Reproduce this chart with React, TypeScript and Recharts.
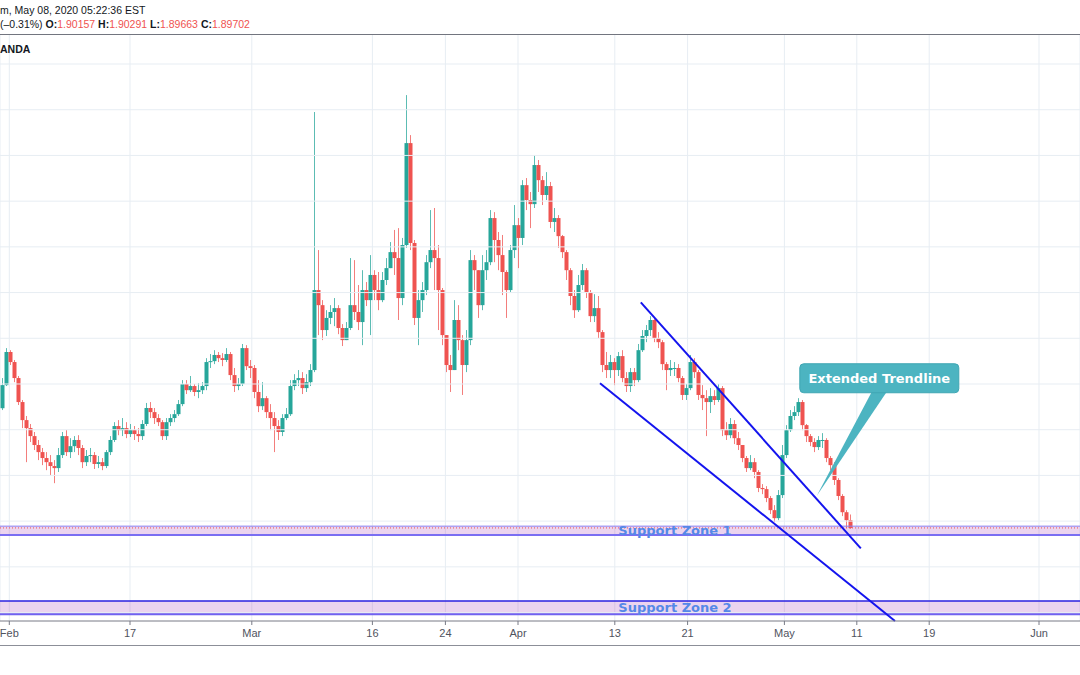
import React from 'react';
import { ComposedChart, Bar, XAxis, YAxis, CartesianGrid, ReferenceArea, ReferenceLine, ReferenceDot } from 'recharts';

// GBP/AUD style 4h candles, one slot per candle
const firstOpen = 1.9494;

const closes = [
  1.9595, 1.9740, 1.9696, 1.9626, 1.9521, 1.9442, 1.9407, 1.9372, 1.9333, 1.9302,
  1.9276, 1.9258, 1.9241, 1.9232, 1.9289, 1.9372, 1.9302, 1.9328, 1.9355, 1.9320,
  1.9258, 1.9285, 1.9289, 1.9250, 1.9258, 1.9241, 1.9302, 1.9355, 1.9416, 1.9398,
  1.9407, 1.9381, 1.9398, 1.9381, 1.9372, 1.9425, 1.9495, 1.9477, 1.9451, 1.9433,
  1.9372, 1.9433, 1.9451, 1.9468, 1.9512, 1.9600, 1.9573, 1.9591, 1.9565, 1.9573,
  1.9591, 1.9696, 1.9700, 1.9727, 1.9713, 1.9705, 1.9731, 1.9639, 1.9591, 1.9600,
  1.9757, 1.9678, 1.9670, 1.9565, 1.9503, 1.9538, 1.9477, 1.9451, 1.9416, 1.9390,
  1.9451, 1.9468, 1.9591, 1.9617, 1.9626, 1.9582, 1.9608, 1.9661, 2.0011, 1.9945,
  1.9836, 1.9889, 1.9915, 1.9932, 1.9845, 1.9792, 1.9845, 1.9945, 1.9915, 1.9871,
  2.0011, 1.9967, 2.0077, 2.0011, 1.9967, 2.0055, 2.0107, 2.0177, 2.0151, 1.9976,
  2.0208, 2.0654, 2.0217, 1.9889, 1.9967, 2.0011, 2.0133, 2.0186, 2.0151, 2.0011,
  1.9814, 1.9683, 1.9661, 1.9880, 1.9792, 1.9683, 1.9792, 2.0142, 2.0098, 1.9945,
  2.0098, 2.0133, 2.0326, 2.0230, 2.0164, 2.0090, 2.0011, 2.0186, 2.0295, 2.0239,
  2.0470, 2.0405, 2.0387, 2.0558, 2.0492, 2.0427, 2.0466, 2.0309, 2.0326, 2.0247,
  2.0177, 2.0098, 1.9985, 1.9923, 2.0033, 2.0098, 2.0002, 1.9897, 1.9932, 1.9827,
  1.9683, 1.9661, 1.9696, 1.9661, 1.9722, 1.9626, 1.9591, 1.9652, 1.9617, 1.9748,
  1.9810, 1.9836, 1.9880, 1.9801, 1.9783, 1.9687, 1.9661, 1.9670, 1.9670, 1.9626,
  1.9552, 1.9582, 1.9696, 1.9652, 1.9552, 1.9538, 1.9521, 1.9547, 1.9530, 1.9582,
  1.9398, 1.9376, 1.9425, 1.9363, 1.9333, 1.9276, 1.9232, 1.9258, 1.9215, 1.9145,
  1.9140, 1.9101, 1.9048, 1.9013, 1.9114, 1.9289, 1.9398, 1.9460, 1.9477, 1.9521,
  1.9420, 1.9372, 1.9346, 1.9324, 1.9355, 1.9355, 1.9276, 1.9245, 1.9180, 1.9110,
  1.9039, 1.9004, 1.8970,
];

const highs = [
  1.9626, 1.9757, 1.9748, 1.9705, 1.9635, 1.9530, 1.9460, 1.9425, 1.9390, 1.9355,
  1.9320, 1.9302, 1.9289, 1.9267, 1.9320, 1.9390, 1.9398, 1.9363, 1.9372, 1.9376,
  1.9333, 1.9311, 1.9320, 1.9302, 1.9285, 1.9276, 1.9311, 1.9372, 1.9433, 1.9442,
  1.9451, 1.9433, 1.9425, 1.9416, 1.9407, 1.9442, 1.9517, 1.9521, 1.9495, 1.9468,
  1.9442, 1.9451, 1.9468, 1.9486, 1.9530, 1.9617, 1.9617, 1.9635, 1.9600, 1.9604,
  1.9608, 1.9713, 1.9731, 1.9748, 1.9740, 1.9735, 1.9757, 1.9740, 1.9670, 1.9626,
  1.9775, 1.9770, 1.9705, 1.9683, 1.9617, 1.9608, 1.9547, 1.9512, 1.9477, 1.9442,
  1.9468, 1.9495, 1.9617, 1.9643, 1.9661, 1.9652, 1.9643, 1.9687, 2.0790, 2.0186,
  1.9967, 1.9923, 1.9945, 1.9976, 1.9945, 1.9862, 1.9871, 2.0151, 2.0142, 2.0033,
  2.0098, 2.0046, 2.0164, 2.0098, 2.0090, 2.0090, 2.0151, 2.0221, 2.0274, 2.0282,
  2.0239, 2.0864, 2.0689, 2.0230, 2.0011, 2.0046, 2.0164, 2.0361, 2.0370, 2.0208,
  2.0020, 1.9814, 1.9727, 1.9967, 1.9945, 1.9814, 1.9836, 2.0186, 2.0164, 2.0098,
  2.0164, 2.0186, 2.0361, 2.0352, 2.0265, 2.0252, 2.0098, 2.0208, 2.0383, 2.0326,
  2.0492, 2.0501, 2.0440, 2.0602, 2.0580, 2.0510, 2.0527, 2.0484, 2.0370, 2.0339,
  2.0252, 2.0186, 2.0107, 2.0011, 2.0077, 2.0125, 2.0107, 2.0011, 1.9993, 1.9985,
  1.9836, 1.9740, 1.9727, 1.9713, 1.9740, 1.9748, 1.9652, 1.9670, 1.9670, 1.9775,
  1.9836, 1.9858, 1.9897, 1.9889, 1.9827, 1.9792, 1.9696, 1.9705, 1.9696, 1.9687,
  1.9635, 1.9600, 1.9727, 1.9713, 1.9661, 1.9595, 1.9573, 1.9582, 1.9573, 1.9600,
  1.9591, 1.9433, 1.9451, 1.9442, 1.9390, 1.9333, 1.9285, 1.9289, 1.9276, 1.9223,
  1.9162, 1.9153, 1.9110, 1.9070, 1.9136, 1.9333, 1.9420, 1.9486, 1.9503, 1.9538,
  1.9530, 1.9425, 1.9381, 1.9363, 1.9372, 1.9385, 1.9363, 1.9285, 1.9258, 1.9188,
  1.9118, 1.9048, 1.9029,
];

const lows = [
  1.9486, 1.9591, 1.9683, 1.9608, 1.9508, 1.9407, 1.9258, 1.9346, 1.9311, 1.9267,
  1.9245, 1.9223, 1.9201, 1.9166, 1.9215, 1.9276, 1.9285, 1.9276, 1.9302, 1.9289,
  1.9232, 1.9241, 1.9258, 1.9228, 1.9232, 1.9223, 1.9232, 1.9289, 1.9346, 1.9376,
  1.9372, 1.9363, 1.9368, 1.9355, 1.9346, 1.9355, 1.9416, 1.9451, 1.9425, 1.9416,
  1.9355, 1.9355, 1.9416, 1.9433, 1.9460, 1.9503, 1.9556, 1.9565, 1.9547, 1.9538,
  1.9556, 1.9573, 1.9670, 1.9687, 1.9696, 1.9678, 1.9696, 1.9617, 1.9565, 1.9573,
  1.9591, 1.9661, 1.9626, 1.9538, 1.9477, 1.9486, 1.9451, 1.9398, 1.9302, 1.9355,
  1.9372, 1.9442, 1.9460, 1.9573, 1.9591, 1.9556, 1.9565, 1.9591, 1.9652, 1.9814,
  1.9792, 1.9810, 1.9862, 1.9853, 1.9818, 1.9766, 1.9792, 1.9836, 1.9880, 1.9836,
  1.9770, 1.9941, 1.9814, 1.9967, 1.9923, 1.9958, 2.0033, 2.0107, 2.0077, 1.9880,
  1.9945, 2.0195, 2.0186, 1.9858, 1.9770, 1.9915, 1.9989, 2.0107, 2.0011, 1.9836,
  1.9770, 1.9652, 1.9565, 1.9661, 1.9748, 1.9552, 1.9652, 1.9770, 2.0011, 1.9889,
  1.9923, 2.0055, 2.0120, 2.0133, 2.0098, 1.9989, 1.9889, 2.0002, 2.0151, 2.0107,
  2.0208, 2.0361, 2.0282, 2.0370, 2.0440, 2.0383, 2.0405, 2.0282, 2.0265, 2.0195,
  2.0151, 2.0055, 1.9945, 1.9889, 1.9915, 2.0011, 1.9976, 1.9871, 1.9871, 1.9801,
  1.9652, 1.9626, 1.9626, 1.9595, 1.9635, 1.9608, 1.9565, 1.9565, 1.9591, 1.9608,
  1.9740, 1.9783, 1.9810, 1.9783, 1.9757, 1.9661, 1.9573, 1.9635, 1.9635, 1.9608,
  1.9530, 1.9530, 1.9573, 1.9626, 1.9530, 1.9486, 1.9372, 1.9473, 1.9508, 1.9521,
  1.9372, 1.9355, 1.9363, 1.9337, 1.9311, 1.9258, 1.9215, 1.9223, 1.9188, 1.9127,
  1.9118, 1.9083, 1.9031, 1.8996, 1.9004, 1.9101, 1.9276, 1.9390, 1.9442, 1.9460,
  1.9398, 1.9346, 1.9328, 1.9302, 1.9311, 1.9320, 1.9258, 1.9223, 1.9158, 1.9092,
  1.9022, 1.8970, 1.8966,
];

const tickSlots = [1.825, 32, 62.45, 92.6, 110.85, 129, 153.2, 171.4, 195.6, 213.7, 231.8, 259.25];
const tickLabels = ['Feb', '17', 'Mar', '16', '24', 'Apr', '13', '21', 'May', '11', '19', 'Jun'];
const gridPrices = [1.86, 1.88, 1.90, 1.92, 1.94, 1.96, 1.98, 2.00, 2.02, 2.04, 2.06, 2.08, 2.10];

const lastClose = 1.89702;
const zone1 = [1.8939, 1.8978];
const zone2 = [1.8593, 1.8651];
const zoneLabelSlot = 168.25;
const zone1LabelPrice = 1.8961;
const zone2LabelPrice = 1.8624;

const upperTrend = [{ x: 159.7, y: 1.9957 }, { x: 214.7, y: 1.8881 }];
const lowerTrend = [{ x: 149.5, y: 1.9603 }, { x: 223.25, y: 1.8563 }];
const calloutTip = { x: 203.7, y: 1.9111 };

const data = closes.map((close, i) => ({
  slot: i,
  open: i === 0 ? firstOpen : closes[i - 1],
  high: highs[i],
  low: lows[i],
  close,
}));

const UP = '#26a69a';
const DOWN = '#ef5350';
const GRID = '#e7edf3';

const Candle = (props: any) => {
  const { x, y, width, height, payload } = props;
  const { open, close, high, low } = payload;
  const top = Math.min(y, y + height);
  const h = Math.abs(height);
  const k = high === low ? 0 : h / (high - low);
  const cx = Math.round(x + width / 2);
  const yo = top + (high - open) * k;
  const yc = top + (high - close) * k;
  const color = close >= open ? UP : DOWN;
  return (
    <g>
      <line x1={cx + 0.5} x2={cx + 0.5} y1={top} y2={top + h} stroke={color} strokeOpacity={0.75} />
      <rect x={cx - 1.5} y={Math.min(yo, yc)} width={4} height={Math.max(1, Math.abs(yo - yc))} fill={color} />
    </g>
  );
};

const zoneLabel = (text: string) => (p: any) => (
  <text x={p.cx} y={p.cy} textAnchor="middle" dominantBaseline="central" fill="#5588e8"
    fontFamily="DejaVu Sans" fontWeight="bold" fontSize={13}>{text}</text>
);

const Callout = (p: any) => {
  const { cx, cy } = p;
  return (
    <g>
      <polygon points={`${cx},${cy} ${cx + 55},${cy - 104} ${cx + 70},${cy - 104}`} fill="#4cb4c1" />
      <rect x={cx - 17} y={cy - 132} width={159} height={29} rx={4} fill="#4cb4c1" stroke="#3fa6b3" />
      <text x={cx + 62.5} y={cy - 117.5} textAnchor="middle" dominantBaseline="central" fill="#ffffff"
        fontFamily="DejaVu Sans" fontWeight="bold" fontSize={13}>Extended Trendline</text>
    </g>
  );
};

const hdr: React.CSSProperties = {
  position: 'absolute', left: 0, fontFamily: 'Liberation Sans', fontSize: 10.5, color: '#131722', whiteSpace: 'nowrap',
};
const red = { color: DOWN };

export default function App() {
  return (
    <div style={{ position: 'absolute', left: 0, top: 0, width: 1080, height: 675, background: '#fff', overflow: 'hidden' }}>
      <ComposedChart width={1080} height={675} data={data} margin={{ top: 35, right: 0, bottom: 0, left: 0 }}>
        <CartesianGrid stroke={GRID} horizontal={false} />
        <XAxis
          dataKey="slot"
          type="number"
          domain={[-0.5, 269.5]}
          ticks={tickSlots}
          interval={0}
          tickFormatter={(v: number) => tickLabels[tickSlots.indexOf(v)]}
          height={54}
          axisLine={{ stroke: '#787b86' }}
          tickLine={{ stroke: '#787b86' }}
          tickSize={4}
          tickMargin={4}
          tick={{ fill: '#50535e', fontSize: 11, fontFamily: 'Liberation Sans' }}
          allowDataOverflow
        />
        <YAxis
          type="number"
          domain={[1.8563, 2.1127]}
          ticks={gridPrices}
          width={0}
          tick={false}
          axisLine={false}
          tickLine={false}
          allowDataOverflow
        />
        {gridPrices.map((p) => (
          <ReferenceLine key={p} y={p} stroke={GRID} strokeWidth={1} />
        ))}
        <ReferenceArea y1={zone1[0]} y2={zone1[1]} fill="#9c27b0" fillOpacity={0.2} stroke="none" ifOverflow="visible" />
        <ReferenceArea y1={zone2[0]} y2={zone2[1]} fill="#9c27b0" fillOpacity={0.2} stroke="none" ifOverflow="visible" />
        <ReferenceLine y={zone1[0]} stroke="#7a6ef2" strokeWidth={2} />
        <ReferenceLine y={zone1[1]} stroke="#8a7ef2" strokeWidth={1} />
        <ReferenceLine y={zone2[0]} stroke="#6f62f0" strokeWidth={2} />
        <ReferenceLine y={zone2[1]} stroke="#2a22e0" strokeWidth={1.5} />
        <ReferenceLine y={lastClose} stroke={DOWN} strokeDasharray="1 2" />
        <Bar dataKey={(d: any) => [d.low, d.high]} shape={Candle} barSize={3} isAnimationActive={false} />
        <ReferenceDot x={zoneLabelSlot} y={zone1LabelPrice} r={0} shape={zoneLabel('Support Zone 1')} />
        <ReferenceDot x={zoneLabelSlot} y={zone2LabelPrice} r={0} shape={zoneLabel('Support Zone 2')} />
        <ReferenceLine segment={upperTrend} stroke="#1414ee" strokeWidth={2} ifOverflow="visible" />
        <ReferenceLine segment={lowerTrend} stroke="#1414ee" strokeWidth={2} ifOverflow="visible" />
        <ReferenceDot x={calloutTip.x} y={calloutTip.y} r={0} shape={Callout} />
      </ComposedChart>
      <div style={{ ...hdr, top: 4 }}>m, May 08, 2020 05:22:36 EST</div>
      <div style={{ ...hdr, top: 18 }}>
        (–0.31%) <b>O:</b><span style={red}>1.90157</span> <b>H:</b><span style={red}>1.90291</span>{' '}
        <b>L:</b><span style={red}>1.89663</span> <b>C:</b><span style={red}>1.89702</span>
      </div>
      <div style={{ position: 'absolute', left: 0, top: 34, width: 1080, height: 1, background: '#72757f' }} />
      <div style={{ ...hdr, top: 43, fontWeight: 'bold', fontSize: 10.5 }}>ANDA</div>
      <div style={{ position: 'absolute', left: 0, top: 645, width: 1080, height: 1, background: '#8c8f98' }} />
    </div>
  );
}
